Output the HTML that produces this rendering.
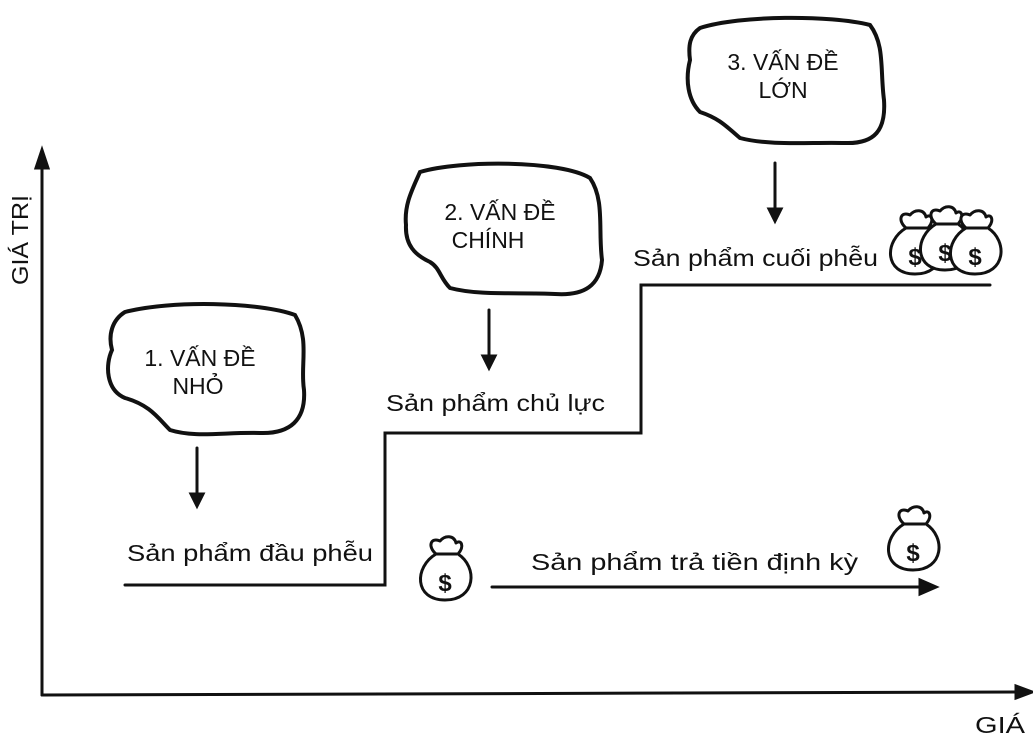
<!DOCTYPE html>
<html><head><meta charset="utf-8"><style>
html,body{margin:0;padding:0;background:#fff;}
svg{display:block}
text{font-family:"Liberation Sans",sans-serif;fill:#111}
</style></head><body>
<svg width="1033" height="745" viewBox="0 0 1033 745" xmlns="http://www.w3.org/2000/svg">
<defs>
<g id="bag">
<path d="M-9,-24 C-18,-32 -14,-41 -5,-37 C0,-43 9,-43 11,-35 C16,-39 20,-32 13,-24 C33,-11 31,22 0,22 C-31,22 -31,-11 -9,-24 Z" fill="#fff" stroke="#111" stroke-width="3" stroke-linejoin="round"/>
<path d="M-10,-24 L12,-24" stroke="#111" stroke-width="3"/>
</g>
</defs>
<g stroke="#111" stroke-width="3" fill="none" stroke-linecap="round">
<path d="M42,695 L42,155"/>
<path d="M36,168 L42,150 L48,168 Z" fill="#111"/>
<path d="M42,695 L1022,692"/>
<path d="M1016,686 L1032,692 L1016,698 Z" fill="#111"/>
<path d="M125,585 L385,585 L385,433 L641,433 L641,285 L990,285"/>
<path d="M492,587 L925,587"/>
<path d="M920,580 L936,587 L920,594 Z" fill="#111"/>
<path d="M197,448 L197,500"/><path d="M191,494 L197,506 L203,494Z" fill="#111"/>
<path d="M489,310 L489,362"/><path d="M483,356 L489,368 L495,356Z" fill="#111"/>
<path d="M775,163 L775,215"/><path d="M769,209 L775,221 L781,209Z" fill="#111"/>
</g>
<g stroke="#111" stroke-width="4" fill="#fff">
<path d="M125,312 C170,300 260,302 295,315 C310,340 300,365 304,390 C306,420 290,434 260,433 C225,432 195,438 170,430 C158,418 150,405 125,398 C106,390 105,365 112,350 C108,335 112,320 125,312 Z"/>
<path d="M420,172 C460,160 560,160 590,178 C605,200 598,230 602,260 C600,285 585,296 555,294 C520,292 480,296 450,288 C440,278 440,268 430,262 C415,255 405,245 406,225 C404,205 412,190 420,172 Z"/>
<path d="M700,28 C740,15 830,15 870,25 C885,45 880,70 884,100 C886,130 875,144 845,143 C810,142 770,146 740,138 C725,125 718,118 700,112 C688,100 685,80 690,60 C688,45 690,35 700,28 Z"/>
</g>
<g font-size="23">
<text x="200" y="366" text-anchor="middle">1. VẤN ĐỀ</text>
<text x="198" y="394" text-anchor="middle">NHỎ</text>
<text x="500" y="220" text-anchor="middle">2. VẤN ĐỀ</text>
<text x="488" y="248" text-anchor="middle">CHÍNH</text>
<text x="783" y="70" text-anchor="middle">3. VẤN ĐỀ</text>
<text x="783" y="98" text-anchor="middle">LỚN</text>
<text x="127" y="561" textLength="246" lengthAdjust="spacingAndGlyphs">Sản phẩm đầu phễu</text>
<text x="386" y="411" textLength="219" lengthAdjust="spacingAndGlyphs">Sản phẩm chủ lực</text>
<text x="633" y="266" textLength="245" lengthAdjust="spacingAndGlyphs">Sản phẩm cuối phễu</text>
<text x="531" y="570" textLength="327" lengthAdjust="spacingAndGlyphs">Sản phẩm trả tiền định kỳ</text>
<text x="975" y="733" textLength="50" lengthAdjust="spacingAndGlyphs">GIÁ</text>
<text transform="translate(28,285) rotate(-90)" textLength="90" lengthAdjust="spacingAndGlyphs">GIÁ TRỊ</text>
</g>
<g font-size="24" font-weight="bold" text-anchor="middle">
<use href="#bag" x="445" y="578"/><text x="445" y="591">$</text>
<use href="#bag" x="913" y="548"/><text x="913" y="561">$</text>
<use href="#bag" x="915" y="252"/><text x="915" y="265">$</text>
<use href="#bag" x="945" y="248"/><text x="945" y="261">$</text>
<use href="#bag" x="975" y="252"/><text x="975" y="265">$</text>
</g>
</svg>
</body></html>
